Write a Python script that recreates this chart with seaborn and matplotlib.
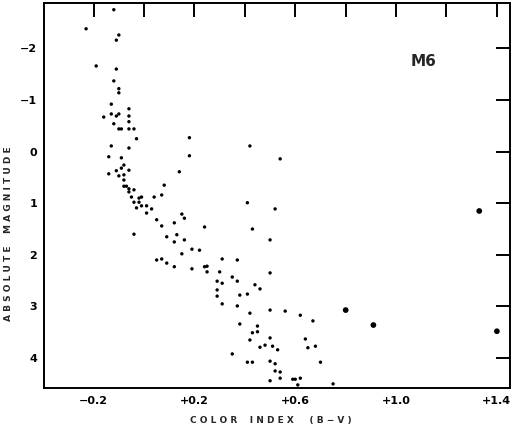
import matplotlib
matplotlib.use("Agg")
import matplotlib.pyplot as plt
import seaborn as sns
import pandas as pd

# Color index (B-V) and absolute magnitude
color_index = [
    -0.12, -0.23, -0.10, -0.11, -0.19, -0.11, -0.12, -0.10, -0.10, -0.13,
    -0.06, -0.13, -0.16, -0.11, -0.10, -0.06, -0.06, -0.12, -0.10, -0.09,
    -0.06, -0.04, -0.03, 0.18, -0.13, -0.06, 0.42, 0.18, -0.14, -0.09,
    0.54, -0.08, -0.09, -0.06, -0.11, 0.14, -0.14, -0.10, -0.08, -0.08,
    0.08, -0.08, -0.07, -0.06, -0.04, -0.06, -0.05, -0.02, -0.01, 0.04,
    0.07, -0.04, -0.02, -0.01, 0.01, -0.03, 0.03, 0.01, 0.41, 0.52,
    1.33, 0.05, 0.15, 0.16, 0.12, 0.07, 0.24, 0.43, -0.04, 0.13,
    0.09, 0.12, 0.16, 0.50, 0.19, 0.22, 0.15, 0.05, 0.07, 0.09,
    0.12, 0.19, 0.31, 0.37, 0.24, 0.25, 0.25, 0.30, 0.50, 0.35,
    0.29, 0.31, 0.37, 0.44, 0.46, 0.29, 0.29, 0.38, 0.41, 0.31,
    0.37, 0.42, 0.50, 0.56, 0.62, 0.67, 0.80, 0.91, 0.38, 0.45,
    0.43, 0.45, 0.42, 0.50, 0.64, 0.46, 0.48, 0.51, 0.53, 0.65,
    0.68, 0.35, 0.41, 0.43, 0.50, 0.52, 0.70, 0.52, 0.54, 0.54,
    0.50, 0.59, 0.60, 0.62, 0.61, 0.75, 1.40,
]
abs_magnitude = [
    -2.75, -2.38, -2.26, -2.16, -1.66, -1.60, -1.37, -1.22, -1.14, -0.92,
    -0.83, -0.73, -0.67, -0.69, -0.73, -0.69, -0.58, -0.54, -0.44, -0.44,
    -0.44, -0.44, -0.25, -0.27, -0.11, -0.07, -0.11, 0.08, 0.10, 0.12,
    0.14, 0.26, 0.32, 0.36, 0.37, 0.39, 0.43, 0.47, 0.45, 0.55,
    0.65, 0.67, 0.67, 0.72, 0.74, 0.78, 0.88, 0.90, 0.88, 0.88,
    0.84, 0.98, 0.98, 1.05, 1.05, 1.09, 1.11, 1.19, 0.99, 1.11,
    1.15, 1.32, 1.21, 1.29, 1.38, 1.44, 1.46, 1.50, 1.60, 1.61,
    1.65, 1.75, 1.71, 1.71, 1.89, 1.91, 1.98, 2.10, 2.08, 2.16,
    2.23, 2.27, 2.08, 2.10, 2.23, 2.22, 2.33, 2.33, 2.35, 2.43,
    2.51, 2.55, 2.51, 2.58, 2.66, 2.68, 2.80, 2.78, 2.76, 2.95,
    2.99, 3.13, 3.07, 3.09, 3.17, 3.28, 3.07, 3.36, 3.34, 3.38,
    3.51, 3.49, 3.65, 3.61, 3.63, 3.79, 3.75, 3.77, 3.84, 3.80,
    3.77, 3.92, 4.08, 4.08, 4.06, 4.11, 4.08, 4.25, 4.27, 4.39,
    4.44, 4.41, 4.41, 4.39, 4.52, 4.50, 3.48,
]
# dot class: "big" for the heavier dots
dot_kind = ["small"] * len(color_index)
for i in (60, 106, 107, 136):
    dot_kind[i] = "big"

x_ticks = [-0.2, 0.0, 0.2, 0.4, 0.6, 0.8, 1.0, 1.2, 1.4]
x_tick_labels = ["\u22120.2", "", "+0.2", "", "+0.6", "", "+1.0", "", "+1.4"]
y_ticks = [-2, -1, 0, 1, 2, 3, 4]
y_tick_labels = ["\u22122", "\u22121", "0", "1", "2", "3", "4"]

df = pd.DataFrame({"bv": color_index, "mag": abs_magnitude, "kind": dot_kind})

sns.set_theme(style="white")
plt.rcParams["font.family"] = ["DejaVu Sans"]

fig = plt.figure(figsize=(5.16, 4.28), dpi=100)
ax = fig.add_axes([44 / 516, 40 / 428, 466 / 516, 385 / 428])

sns.scatterplot(data=df, x="bv", y="mag", size="kind",
                sizes={"small": 6, "big": 17}, color="black",
                linewidth=0, legend=False, ax=ax)

ax.set_xlim(-0.397, 1.452)
ax.set_ylim(4.58, -2.88)

ax.set_xticks(x_ticks)
ax.set_xticklabels(x_tick_labels, fontsize=8, fontweight="bold")
ax.set_yticks(y_ticks)
ax.set_yticklabels(y_tick_labels, fontsize=8, fontweight="bold")
ax.tick_params(axis="both", direction="in", length=10, width=1.4,
               top=True, right=True, color="black", labelcolor="black")
ax.tick_params(axis="x", pad=6)
ax.tick_params(axis="y", pad=5)

for sp in ax.spines.values():
    sp.set_visible(True)
    sp.set_linewidth(1.4)
    sp.set_color("black")

ax.set_xlabel("")
ax.set_ylabel("")
fig.text(271 / 516, 1 - 421 / 428, "C O L O R    I N D E X     ( B \u2212 V )",
         ha="center", va="center", fontsize=6.5, fontweight="bold")
fig.text(9 / 516, 1 - 234 / 428, "A B S O L U T E    M A G N I T U D E",
         rotation=90, ha="center", va="center", fontsize=6.5,
         fontweight="bold")
ax.text(1.11, -1.74, "M6", ha="center", va="center", fontsize=11,
        fontweight="bold")

fig.savefig("out.png", dpi=100)
